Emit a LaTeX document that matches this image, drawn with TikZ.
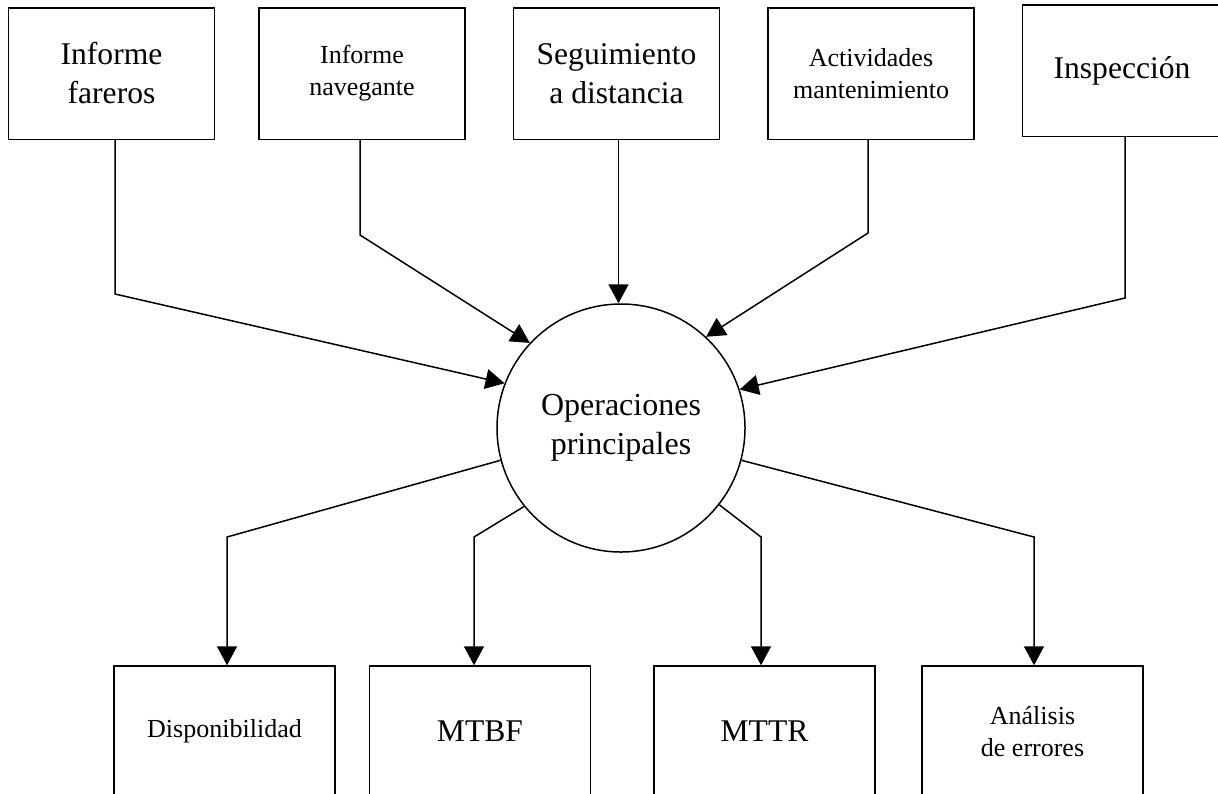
\documentclass[tikz,border=0pt]{standalone}
\usepackage{fontspec}
\setmainfont{Liberation Serif}
\usetikzlibrary{positioning,arrows.meta}
\tikzset{
  source box/.style={
    draw,
    line width=0.75pt,
    minimum width={#1},
    minimum height=65.75pt,
    inner sep=0pt,
    align=center,
  },
  source box/.default=103pt,
  result box/.style={
    draw,
    line width=0.75pt,
    minimum width=110.5pt,
    minimum height=65.5pt,
    inner sep=0pt,
    align=center,
  },
  hub/.style={
    draw,
    circle,
    line width=0.75pt,
    minimum size=124pt,
    align=center,
    font=\fontsize{16}{19.5}\selectfont,
  },
  big text/.style={font=\fontsize{15.8}{19.5}\selectfont},
  small text/.style={font=\fontsize{13}{16}\selectfont},
  flow/.style={
    line width=0.75pt,
    -{Triangle[length=9.5pt,width=10pt]},
  },
}

\begin{document}
\begin{tikzpicture}[x=0.5pt, y=-0.5pt, node distance=23.5pt]
    \clip (0,0) rectangle (1218,793);

    \node [source box, big text] (inf1) at (111.5,73.5) {Informe\\fareros};
    \node [source box, small text, right=21.5pt of inf1] (inf2) {Informe\\navegante};
    \node [source box, big text, right=of inf2] (seg) {Seguimiento\\a distancia};
    \node [source box, small text, right=of seg] (act) {Actividades\\mantenimiento};
    \node [source box=99.5pt, big text, right=of act, yshift=1.5pt] (insp) {Inspección};

    \node [hub] (op) at (621,428) {Operaciones\\principales};

    \node [result box, small text] (disp) at (224.5,731.5) {Disponibilidad};
    \node [result box, big text] (mtbf) at (480,731.5) {MTBF};
    \node [result box, big text] (mttr) at (764.5,731.5) {MTTR};
    \node [result box, small text] (anal) at (1032.5,731.5) {Análisis\\de errores};

    \coordinate (k1) at (115,294);
    \coordinate (k2) at (360,235);
    \coordinate (k3) at (618.5,200);
    \coordinate (k4) at (868,233);
    \coordinate (k5) at (1125,298);
    \draw [flow] (inf1.south -| k1) -- (k1) -- (op.159);
    \draw [flow] (inf2.south -| k2) -- (k2) -- (op.137);
    \draw [flow] (seg.south -| k3) -- (op.north -| k3);
    \draw [flow] (act.south -| k4) -- (k4) -- (op.47);
    \draw [flow] (insp.south -| k5) -- (k5) -- (op.18);

    \coordinate (m1) at (227,537);
    \coordinate (m2) at (474,537);
    \coordinate (m3) at (761,537);
    \coordinate (m4) at (1034,537);
    \draw [flow] (op.195) -- (m1) -- (m1 |- disp.north);
    \draw [flow] (op.219) -- (m2) -- (m2 |- mtbf.north);
    \draw [flow] (op.322) -- (m3) -- (m3 |- mttr.north);
    \draw [flow] (op.345) -- (m4) -- (m4 |- anal.north);
\end{tikzpicture}
\end{document}
